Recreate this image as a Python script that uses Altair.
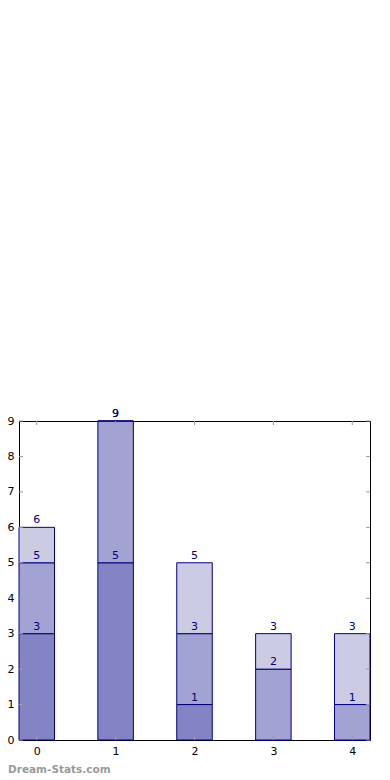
import altair as alt
import pandas as pd

categories = [0, 1, 2, 3, 4]
series_names = ["A", "B", "C"]
series_a = [3, 5, 1, 0, 0]
series_b = [2, 4, 2, 2, 1]
series_c = [1, 0, 2, 1, 2]
colors = ["#8484c4", "#a3a3d3", "#cbcbe4"]
y_ticks = list(range(0, 10))

rows = []
bottoms = [0] * len(categories)
for name, vals in zip(series_names, [series_a, series_b, series_c]):
    for i, c in enumerate(categories):
        y0 = bottoms[i]
        y1 = y0 + vals[i]
        rows.append({"cat": c, "series": name, "y0": y0, "y1": y1,
                     "xl": c - 0.225, "xr": c + 0.225, "label": str(y1)})
        bottoms[i] = y1
df = pd.DataFrame(rows)
lab = df[df["y1"] > 0]

W, H = 351, 319
xs = alt.Scale(domain=[-0.225, 4.225], nice=False, zero=False)
ys = alt.Scale(domain=[0, 9], nice=False)

xaxis = alt.Axis(values=categories, title=None, grid=False, ticks=False, domain=False,
                 labelFontSize=11, labelColor="#000", labelFont="DejaVu Sans", labelPadding=5,
                 format="d", labelOverlap=False)
yaxis = alt.Axis(values=y_ticks, title=None, grid=False, ticks=False, domain=False,
                 labelFontSize=11, labelColor="#000", labelFont="DejaVu Sans", labelPadding=5,
                 format="d", labelOverlap=False, labelBound=False)

bars = alt.Chart(df).mark_bar(stroke="#000080", strokeWidth=1, opacity=1).encode(
    x=alt.X("xl:Q", scale=xs, axis=xaxis),
    x2="xr:Q",
    y=alt.Y("y0:Q", scale=ys, axis=yaxis),
    y2="y1:Q",
    color=alt.Color("series:N", scale=alt.Scale(domain=series_names, range=colors), legend=None),
)

labels = alt.Chart(lab).mark_text(color="#000080", fontSize=11, font="DejaVu Sans",
                                  baseline="bottom", dy=-2).encode(
    x=alt.X("cat:Q", scale=xs, axis=xaxis), y=alt.Y("y1:Q", scale=ys, axis=yaxis), text="label:N")

ydf = pd.DataFrame({"v": y_ticks})
xdf = pd.DataFrame({"v": categories})
tc = "#999999"
lt = alt.Chart(ydf).mark_rule(color=tc).encode(y=alt.Y("v:Q", scale=ys, axis=yaxis), x=alt.value(0), x2=alt.value(4))
rt = alt.Chart(ydf).mark_rule(color=tc).encode(y=alt.Y("v:Q", scale=ys, axis=yaxis), x=alt.value(W - 4), x2=alt.value(W))
bt = alt.Chart(xdf).mark_rule(color=tc).encode(x=alt.X("v:Q", scale=xs, axis=xaxis), y=alt.value(H - 4), y2=alt.value(H))
tt = alt.Chart(xdf).mark_rule(color=tc).encode(x=alt.X("v:Q", scale=xs, axis=xaxis), y=alt.value(0), y2=alt.value(4))

wm = alt.Chart(pd.DataFrame({"t": ["Dream-Stats.com"]})).mark_text(
    color="#9a9a9a", fontSize=10.5, fontWeight="bold", font="DejaVu Sans", align="left", baseline="middle"
).encode(text="t:N", x=alt.value(-11), y=alt.value(349))

chart = alt.layer(bars, labels, lt, rt, bt, tt, wm).properties(
    width=W, height=H,
    autosize=alt.AutoSizeParams(type="none"),
    padding={"left": 11, "top": 413, "right": 12, "bottom": 40},
).configure_view(stroke="#000000", strokeWidth=1)

chart.save("out.html", embed_options={"renderer": "svg", "actions": False})
